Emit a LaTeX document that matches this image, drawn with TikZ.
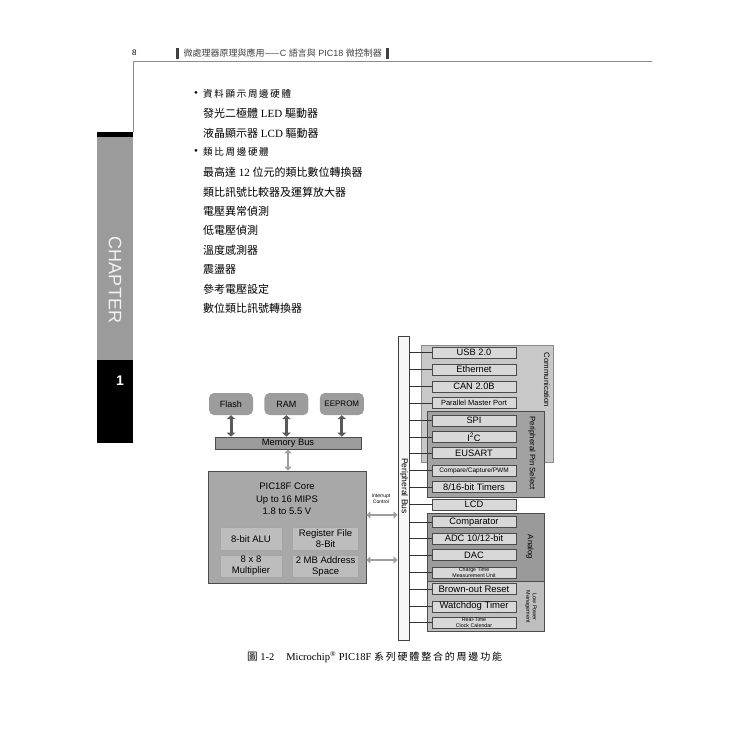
\documentclass[tikz,border=0pt]{standalone}
\usepackage{fontspec}
\setmainfont{Liberation Serif}
\setsansfont{Liberation Sans}
\newfontfamily\cjk{Noto Sans CJK TC}
\newfontfamily\cjkwide[LetterSpace=18]{Noto Sans CJK TC}
\usetikzlibrary{arrows.meta,positioning}

\newcommand\fsz[2]{\fontsize{#1}{#2}\selectfont}

\definecolor{commbg}{HTML}{C8C8C8}
\definecolor{ppsbg}{HTML}{A2A2A2}
\definecolor{anabg}{HTML}{9A9A9A}
\definecolor{lpbg}{HTML}{BEBEBE}
\definecolor{boxfill}{HTML}{D8D8D8}
\definecolor{boxline}{HTML}{4A4A4A}
\definecolor{memfill}{HTML}{9C9C9C}
\definecolor{corefill}{HTML}{A8A8A8}
\definecolor{innerfill}{HTML}{BDBDBD}
\definecolor{sidegray}{HTML}{9B9B9B}

\begin{document}
\begin{tikzpicture}[x=1pt,y=-1pt]
  \tikzset{body/.style={anchor=west, inner sep=0pt, font=\fsz{11}{13}}}
  \tikzset{pbox/.style={draw=boxline, fill=boxfill, line width=0.9pt, minimum width=84pt,
      minimum height=11pt, inner sep=0pt, align=center}}
  \tikzset{membox/.style={fill=memfill, rounded corners=5pt, minimum width=44pt,
      minimum height=22pt, inner sep=0pt, font=\sffamily\fsz{9}{10}}}
  \tikzset{corebox/.style={draw=black!35, fill=innerfill, line width=0.6pt, minimum height=22.5pt,
      inner sep=0pt, align=center, font=\sffamily\fsz{9.5}{11}}}
  \tikzset{grplabel/.style={rotate=-90, inner sep=0pt, align=center, font=\sffamily\fsz{7.8}{8}}}
  \tikzset{grpbox/.style={draw=black!70, line width=0.8pt}}
  \tikzset{memarrow/.style={{Triangle[width=8.5pt,length=4pt]}-{Triangle[width=8.5pt,length=4pt]},
      line width=3pt, draw=black!65}}
  \tikzset{busarrow/.style={{Triangle[width=7pt,length=4pt]}-{Triangle[width=7pt,length=4pt]},
      line width=2.5pt, draw=black!38}}
  \tikzset{busline/.style={draw=black!80, line width=0.8pt}}

  \useasboundingbox[fill=white] (0,0) rectangle (750,750);

  % running head
  \node[anchor=west, inner sep=0pt, font=\sffamily\fsz{8}{9}] (pagenum) at (132,53) {8};
  \node[anchor=west, inner sep=0pt, text=black!75, font=\sffamily\fsz{9}{10}] (runhead) at (176,53)
    {\rule[-2pt]{3pt}{11pt}\enspace{\cjk 微處理器原理與應用——}C {\cjk 語言與} PIC18 {\cjk 微控制器}\enspace\rule[-2pt]{3pt}{11pt}};
  \draw[black!45, line width=1pt] (652,61) -- (133,61) -- (133,132);

  % chapter tab
  \fill[black] (97,132) rectangle (133,137);
  \fill[sidegray] (97,137) rectangle (133,360);
  \fill[black] (97,360) rectangle (133,443);
  \node[rotate=-90, text=black!5, font=\sffamily\fsz{18}{18}] (chap) at (115,280) {CHAPTER};
  \node[text=white, font=\sffamily\bfseries\fsz{14}{14}] (chapnum) at (120,381) {1};

  % text list
  \node[font=\fsz{11}{13}] (dot1) at (196,94) {•};
  \node[body] (l1) at (203,94) {\cjkwide\fsz{9.5}{12}資料顯示周邊硬體};
  \node[body] (l2) at (203,113) {{\cjk 發光二極體} LED {\cjk 驅動器}};
  \node[body] (l3) at (203,133) {{\cjk 液晶顯示器} LCD {\cjk 驅動器}};
  \node[font=\fsz{11}{13}] (dot2) at (196,152) {•};
  \node[body] (l4) at (203,152) {\cjkwide\fsz{9.5}{12}類比周邊硬體};
  \node[body] (l5) at (203,172) {{\cjk 最高達} 12 {\cjk 位元的類比數位轉換器}};
  \node[body] (l6) at (203,192) {\cjk 類比訊號比較器及運算放大器};
  \node[body] (l7) at (203,211) {\cjk 電壓異常偵測};
  \node[body] (l8) at (203,230) {\cjk 低電壓偵測};
  \node[body] (l9) at (203,250) {\cjk 溫度感測器};
  \node[body] (l10) at (203,269) {\cjk 震盪器};
  \node[body] (l11) at (203,289) {\cjk 參考電壓設定};
  \node[body] (l12) at (203,308) {\cjk 數位類比訊號轉換器};

  % memory
  \node[membox] (flash) at (231,404) {Flash};
  \node[membox, right=11pt of flash] (ram) {RAM};
  \node[membox, right=11pt of ram, font=\sffamily\fsz{8}{9}] (eeprom) {EEPROM};
  \node[draw=black!70, fill=memfill, line width=0.8pt, minimum width=146pt, minimum height=12pt,
    inner sep=0pt, font=\sffamily\fsz{9.3}{10}] (membus) at (288,443) {Memory Bus};
  \foreach \m in {flash,ram,eeprom}
    \draw[memarrow] (\m.south) -- (\m.south |- membus.north);

  % core
  \node[draw=black!70, fill=corefill, line width=0.8pt, minimum width=158pt, minimum height=112pt,
    inner sep=0pt] (core) at (287,527) {};
  \node[align=center, font=\sffamily\fsz{9.5}{12.5}] (coretitle) at (287,499)
    {PIC18F Core\\Up to 16 MIPS\\1.8 to 5.5 V};
  \node[corebox, minimum width=62pt] (alu) at (251,539) {8-bit ALU};
  \node[corebox, minimum width=66pt, right=10pt of alu] (regfile) {Register File\\8-Bit};
  \node[corebox, minimum width=62pt, below=4pt of alu] (mult) {8 x 8\\Multiplier};
  \node[corebox, minimum width=66pt, right=10pt of mult] (addr) {2 MB Address\\Space};
  \draw[busarrow] (membus.south) -- (membus.south |- core.north);

  % peripheral bus
  \node[draw=black!75, fill=black!3, line width=0.8pt, minimum width=11pt, minimum height=304pt,
    inner sep=0pt] (pbus) at (403.5,488) {};
  \node[rotate=-90, font=\sffamily\fsz{8.5}{9}] (pbuslabel) at (404,486) {Peripheral Bus};
  \node[align=center, font=\sffamily\fsz{5}{6.5}] (irqlabel) at (381,499) {Interrupt\\Control};
  \draw[busarrow] ([yshift=12pt]core.east) coordinate (irq) -- (irq -| pbus.west);
  \draw[busarrow] ([yshift=-33pt]core.east) coordinate (dat) -- (dat -| pbus.west);

  % peripheral groups
  \filldraw[fill=commbg, draw=black!45, line width=0.6pt] (421,345) rectangle (553,462);
  \filldraw[grpbox, fill=ppsbg] (427,411) rectangle (544,497);
  \filldraw[grpbox, fill=anabg] (427,513) rectangle (544,581);
  \filldraw[grpbox, fill=lpbg] (427,581) rectangle (544,631);
  \node[grplabel] (commlabel) at (547,380) {Communication};
  \node[grplabel] (ppslabel) at (532,453) {Peripheral Pin Select};
  \node[grplabel] (analoglabel) at (530,547) {Analog};
  \node[grplabel, font=\sffamily\fsz{5.5}{6.5}] (lplabel) at (531,607) {Low Power\\Management};

  % peripherals
  \foreach \n/\y/\s/\t in {usb/352.5/9.3/USB 2.0, eth/369.5/9.3/Ethernet, can/386.5/9.3/CAN 2.0B,
      pmp/403/7.5/Parallel Master Port, spi/420.5/9.3/SPI, iic/437/9.3/I\textsuperscript{2}C,
      eusart/453/9.3/EUSART, ccp/470.5/6.5/{Compare/Capture/PWM}, timers/487/9.3/{8/16-bit Timers},
      lcd/504.5/9.3/LCD, comp/522/9.3/Comparator, adc/538.5/9.3/{ADC 10/12-bit}, dac/555/9.3/DAC,
      ctmu/572.5/5.3/Charge Time\\Measurement Unit, bor/589/9.5/Brown-out Reset,
      wdt/606.5/9.5/Watchdog Timer, rtcc/622.5/5.3/Real-Time\\Clock Calendar}
  {
    \node[pbox, font=\sffamily\fsz{\s}{\s}] (\n) at (474,\y) {\t};
    \draw[busline] (\n.west) -- (\n.west -| pbus.east);
  }

  % caption
  \node[body, font=\fsz{10.5}{13}] (caption) at (247,657)
    {{\cjk 圖} 1-2\hspace{12pt}Microchip\textsuperscript{®} PIC18F {\cjkwide\fsz{10}{12}系列硬體整合的周邊功能}};
\end{tikzpicture}
\end{document}
